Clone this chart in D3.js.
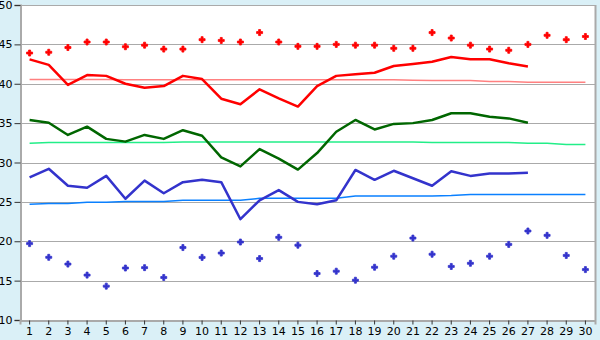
<!DOCTYPE html>
<html lang="en">
<head>
<meta charset="UTF-8">
<title>Daily temperatures</title>
<script src="https://cdnjs.cloudflare.com/ajax/libs/d3/7.8.5/d3.min.js"></script>
<style>
    body { margin: 0; background: #daf0f7; }
    svg { display: block; font-family: "DejaVu Sans", Verdana, sans-serif; }
</style>
</head>
<body>
<svg id="chart" width="600" height="340"></svg>
<script>
    // data
    const days = d3.range(1, 31);
    const recordHigh = [43.9, 44.0, 44.6, 45.3, 45.3, 44.7, 44.9, 44.4, 44.4, 45.6,
                        45.5, 45.3, 46.5, 45.3, 44.75, 44.75, 45.0, 44.9, 44.9, 44.5,
                        44.5, 46.5, 45.8, 44.9, 44.4, 44.25, 45.0, 46.15, 45.6, 46.0];
    const high = [43.1, 42.4, 39.85, 41.1, 41.0, 40.0, 39.5, 39.7, 41.0, 40.6,
                  38.1, 37.4, 39.3, 38.15, 37.1, 39.7, 41.0, 41.2, 41.4, 42.25,
                  42.5, 42.8, 43.4, 43.1, 43.1, 42.6, 42.2];
    const normalHigh = [40.55, 40.55, 40.55, 40.55, 40.55, 40.5, 40.5, 40.5, 40.5, 40.5,
                        40.5, 40.5, 40.5, 40.5, 40.5, 40.5, 40.5, 40.5, 40.5, 40.5,
                        40.45, 40.4, 40.4, 40.4, 40.3, 40.3, 40.2, 40.2, 40.2, 40.2];
    const mean = [35.4, 35.05, 33.5, 34.55, 33.0, 32.65, 33.5, 33.0, 34.1, 33.4,
                  30.65, 29.5, 31.7, 30.5, 29.1, 31.2, 33.9, 35.4, 34.2, 34.9,
                  35.0, 35.4, 36.25, 36.25, 35.8, 35.6, 35.05];
    const normalMean = [32.45, 32.55, 32.55, 32.55, 32.55, 32.55, 32.55, 32.55, 32.6, 32.6,
                        32.6, 32.6, 32.6, 32.6, 32.6, 32.6, 32.6, 32.6, 32.6, 32.6,
                        32.6, 32.55, 32.55, 32.55, 32.55, 32.55, 32.45, 32.45, 32.3, 32.3];
    const low = [28.1, 29.2, 27.05, 26.8, 28.3, 25.4, 27.7, 26.1, 27.5, 27.8,
                 27.5, 22.8, 25.2, 26.5, 25.0, 24.7, 25.2, 29.05, 27.8, 28.95,
                 28.0, 27.05, 28.9, 28.3, 28.6, 28.6, 28.7];
    const normalLow = [24.7, 24.8, 24.8, 24.95, 24.95, 25.05, 25.05, 25.05, 25.2, 25.2,
                       25.2, 25.2, 25.45, 25.45, 25.45, 25.45, 25.45, 25.75, 25.75, 25.75,
                       25.75, 25.75, 25.8, 25.95, 25.95, 25.95, 25.95, 25.95, 25.95, 25.95];
    const recordLow = [19.7, 17.96, 17.1, 15.7, 14.3, 16.6, 16.65, 15.4, 19.2, 17.95,
                       18.5, 19.9, 17.8, 20.5, 19.5, 15.9, 16.2, 15.05, 16.7, 18.1,
                       20.4, 18.35, 16.8, 17.2, 18.1, 19.6, 21.3, 20.75, 18.2, 16.4];
    const yTicks = [10, 15, 20, 25, 30, 35, 40, 45, 50];

    const svg = d3.select("#chart");
    const margin = {left: 20, top: 5, right: 5, bottom: 20};
    const width = 600 - margin.left - margin.right;
    const height = 340 - margin.top - margin.bottom;

    const x = d3.scaleBand().domain(days).range([margin.left, margin.left + width]);
    const y = d3.scaleLinear().domain([10, 50]).range([margin.top + height, margin.top]);
    const cx = d => x(d) + x.bandwidth() / 2;

    // plot background
    svg.append("rect")
        .attr("x", margin.left).attr("y", margin.top)
        .attr("width", width).attr("height", height)
        .attr("fill", "#fff");

    // grid
    svg.append("g")
        .selectAll("line")
        .data(yTicks)
        .join("line")
        .attr("x1", margin.left).attr("x2", margin.left + width)
        .attr("y1", d => Math.round(y(d)) + 0.5).attr("y2", d => Math.round(y(d)) + 0.5)
        .attr("stroke", "#aaa");

    // right border
    svg.append("line")
        .attr("x1", margin.left + width + 0.5).attr("x2", margin.left + width + 0.5)
        .attr("y1", margin.top).attr("y2", margin.top + height)
        .attr("stroke", "#aaa").attr("stroke-width", 2);

    // axes
    const yAxis = svg.append("g")
        .attr("transform", `translate(${margin.left + 0.5},0)`)
        .call(d3.axisLeft(y).tickValues(yTicks).tickSize(6).tickPadding(2));
    const xAxis = svg.append("g")
        .attr("transform", `translate(0,${margin.top + height + 0.5})`)
        .call(d3.axisBottom(x).tickSize(4).tickPadding(3));
    [yAxis, xAxis].forEach(g => {
        g.select(".domain").attr("stroke", "#aaa").attr("stroke-width", 2);
        g.selectAll(".tick line").attr("stroke", "#333");
        g.selectAll(".tick text").attr("fill", "#000").style("font-size", "11px")
            .style("font-family", "'DejaVu Sans', Verdana, sans-serif");
    });

    const line = d3.line().x((d, i) => cx(days[i])).y(d => y(d));

    function drawLine(values, color, w) {
        svg.append("path")
            .datum(values)
            .attr("d", line)
            .attr("fill", "none")
            .attr("stroke", color)
            .attr("stroke-width", w)
            .attr("stroke-linejoin", "round");
    }

    drawLine(normalHigh, "#ff8080", 1.5);
    drawLine(normalMean, "#22ee88", 1.5);
    drawLine(normalLow, "#0a80ff", 1.5);
    drawLine(high, "#ff0000", 2.5);
    drawLine(mean, "#006600", 2.5);
    drawLine(low, "#3333cc", 2.5);

    // small plus-shaped markers
    const marker = d3.symbol().type(d3.symbolCross).size(20);
    function drawMarkers(values, color) {
        svg.append("g")
            .selectAll("path")
            .data(values)
            .join("path")
            .attr("transform", (d, i) => `translate(${cx(days[i])},${y(d)})`)
            .attr("d", marker)
            .attr("fill", color)
            .attr("stroke", color)
            .attr("stroke-width", 0.8);
    }
    drawMarkers(recordHigh, "#ff0000");
    drawMarkers(recordLow, "#3333cc");
</script>
</body>
</html>
